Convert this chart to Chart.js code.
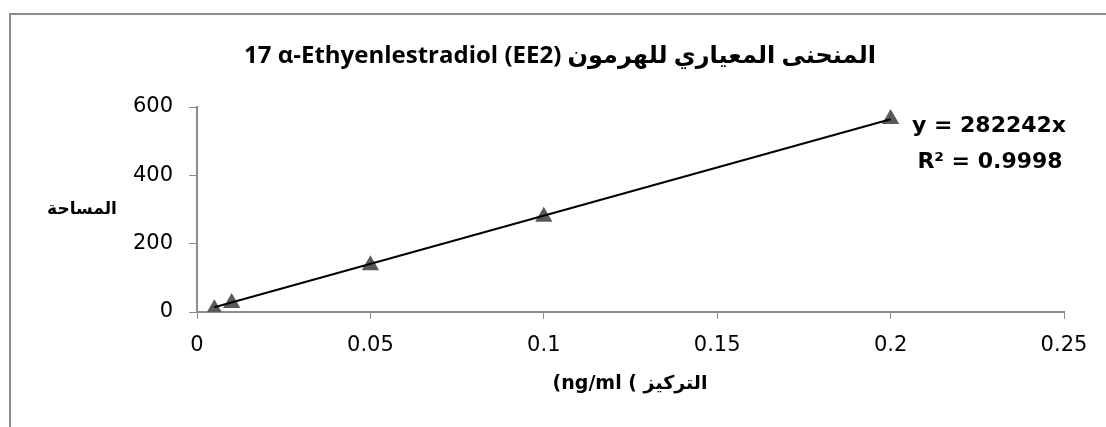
<!DOCTYPE html>
<html>
<head>
<meta charset="utf-8">
<script src="https://cdn.jsdelivr.net/npm/chart.js@4"></script>
<style>
  html, body { margin: 0; padding: 0; background: #fff; }
  #wrap { width: 1106px; height: 427px; }
</style>
</head>
<body>
<div id="wrap"><canvas id="chart" width="1106" height="427"></canvas></div>
<script>
// concentration (ng/ml) and peak area
const concentrations = [0.005, 0.01, 0.05, 0.1, 0.2];
const areas = [8, 26, 137, 279, 565];
// trendline ends as drawn
const trendX = [0.005, 0.2];
const trendY = [14, 564];

// text runs drawn left to right, latin part first, arabic part after
const titleRuns = ['17 α-Ethyenlestradiol (EE2)', ' ', 'المنحنى المعياري للهرمون'];
const yTitle = 'المساحة';
const xTitleRuns = ['(ng/ml', ' ', '(', ' ', 'التركيز'];
const eqLines = ['y = 282242x', 'R² = 0.9998'];

const FONT = '"Open Sans", "DejaVu Sans", sans-serif';
const NUM_FONT = '"DejaVu Sans", sans-serif';

function drawRuns(ctx, runs, cx, cy) {
  const total = runs.reduce((s, r) => s + ctx.measureText(r).width, 0);
  let x = cx - total / 2;
  ctx.textAlign = 'left';
  ctx.direction = 'ltr';
  runs.forEach(r => {
    ctx.fillText(r, x, cy);
    x += ctx.measureText(r).width;
  });
}

const textPlugin = {
  id: 'textPlugin',
  beforeDraw(chart) {
    const ctx = chart.ctx;
    ctx.save();
    ctx.fillStyle = '#8c8c8c';
    ctx.fillRect(9, 13, 2, 427 - 13);
    ctx.fillRect(9, 13, 1106 - 9, 2);
    ctx.restore();
  },
  afterDraw(chart) {
    const ctx = chart.ctx;
    ctx.save();
    ctx.fillStyle = '#000';
    ctx.textBaseline = 'middle';

    ctx.font = 'bold 24px ' + FONT;
    drawRuns(ctx, titleRuns, 560, 56);

    ctx.font = 'bold 19px ' + NUM_FONT;
    drawRuns(ctx, xTitleRuns, 630, 384);

    ctx.textAlign = 'center';
    ctx.font = 'bold 17px ' + NUM_FONT;
    ctx.fillText(yTitle, 82, 210);

    ctx.font = 'bold 22px ' + NUM_FONT;
    ctx.fillText(eqLines[0], 989, 126);
    ctx.fillText(eqLines[1], 990, 162);
    ctx.restore();
  }
};

const trimTick = v => String(Math.round(v * 1000) / 1000);

new Chart(document.getElementById('chart'), {
  type: 'scatter',
  data: {
    datasets: [
      {
        label: 'Area',
        data: concentrations.map((c, i) => ({ x: c, y: areas[i] })),
        pointStyle: 'triangle',
        pointRadius: 10,
        pointHoverRadius: 10,
        backgroundColor: '#595959',
        borderColor: '#595959',
        borderWidth: 0,
        showLine: false,
        order: 2
      },
      {
        label: 'Linear',
        data: trendX.map((c, i) => ({ x: c, y: trendY[i] })),
        showLine: true,
        borderColor: '#000',
        borderWidth: 2,
        pointRadius: 0,
        fill: false,
        order: 1
      }
    ]
  },
  options: {
    responsive: false,
    animation: false,
    events: [],
    layout: { padding: { left: 0, right: 42, top: 107, bottom: 0 } },
    plugins: {
      legend: { display: false },
      title: { display: false },
      tooltip: { enabled: false }
    },
    scales: {
      x: {
        type: 'linear',
        min: 0,
        max: 0.25,
        afterFit: s => { s.height = 427 - 312; },
        ticks: {
          stepSize: 0.05,
          padding: 14,
          color: '#000',
          font: { family: NUM_FONT, size: 21 },
          maxRotation: 0,
          callback: trimTick
        },
        grid: { drawOnChartArea: false, drawTicks: true, tickLength: 7, color: '#8c8c8c' },
        border: { color: '#8c8c8c', width: 2 }
      },
      y: {
        min: 0,
        max: 600,
        afterFit: s => { s.width = 197; },
        ticks: {
          stepSize: 200,
          padding: 16,
          color: '#000',
          font: { family: NUM_FONT, size: 21 }
        },
        grid: { drawOnChartArea: false, drawTicks: true, tickLength: 8, color: '#8c8c8c' },
        border: { color: '#8c8c8c', width: 2 }
      }
    }
  },
  plugins: [textPlugin]
});
</script>
</body>
</html>
